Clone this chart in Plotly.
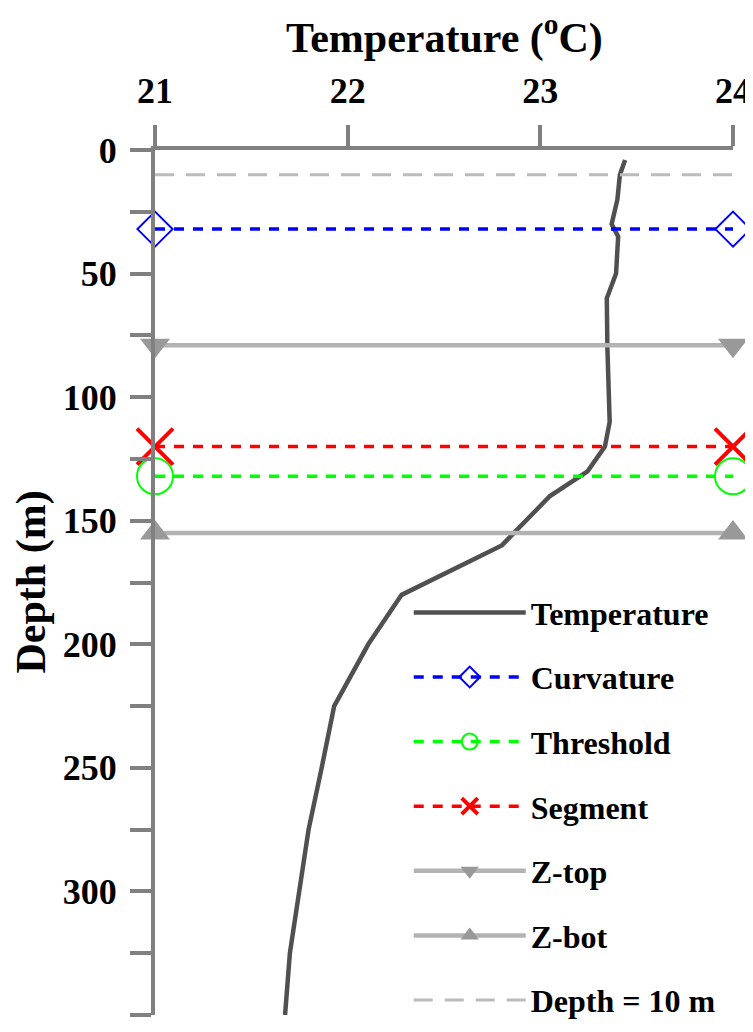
import plotly.graph_objects as go

# ---- data ----
temp_depth = [4, 10, 20, 30, 35, 50, 60, 80, 110, 120, 130, 140, 160, 180, 200, 225, 250, 275, 325, 350]
temp_value = [23.44, 23.413, 23.40, 23.37, 23.404, 23.393, 23.345, 23.348, 23.36, 23.335, 23.245, 23.05,
              22.80, 22.28, 22.107, 21.93, 21.865, 21.797, 21.70, 21.675]

x_limits = [21, 24]
curvature_depth = 32
threshold_depth = 132
segment_depth = 120
ztop_depth = 79
zbot_depth = 155
ref_depth = 10

x_ticks = [21, 22, 23, 24]
y_ticks = [0, 50, 100, 150, 200, 250, 300, 350]

x_title = "Temperature (<sup>o</sup>C)"
y_title = "Depth (m)"

FONT = "Liberation Serif, Times New Roman, serif"
AXIS_GRAY = "#808080"

fig = go.Figure()

fig.add_trace(go.Scatter(
    x=temp_value, y=temp_depth, mode="lines", name="Temperature",
    line=dict(color="#505050", width=4.5), legendgroup="a"))

def hline(depth, name, color, dash, width, symbol, msize, mcolor, mlw, group):
    fig.add_trace(go.Scatter(
        x=x_limits, y=[depth, depth], mode="lines+markers", name=name,
        line=dict(color=color, width=width, dash=dash),
        marker=dict(symbol=symbol, size=msize, color=mcolor,
                    line=dict(color=mcolor, width=mlw)),
        cliponaxis=False, legendgroup=group))

hline(curvature_depth, "Curvature", "#0000ff", "10px,9px", 3.5, "diamond-open", 27, "#0000ff", 2, "b")
hline(threshold_depth, "Threshold", "#00ff00", "10px,9px", 3.5, "circle-open", 36, "#00ff00", 2, "c")
hline(segment_depth, "Segment", "#ff0000", "10px,9px", 3.5, "x-thin", 36, "#ff0000", 4, "d")
hline(ztop_depth, "Z-top", "#b3b3b3", "solid", 4.5, "triangle-down", 26, "#999999", 0, "e")
hline(zbot_depth, "Z-bot", "#b3b3b3", "solid", 4.5, "triangle-up", 26, "#999999", 0, "f")

fig.add_trace(go.Scatter(
    x=x_limits, y=[ref_depth, ref_depth], mode="lines", name="Depth = 10 m",
    line=dict(color="#bbbbbb", width=3, dash="19px,12px"), cliponaxis=False, legendgroup="g"))

fig.update_layout(
    width=745, height=1024,
    margin=dict(l=147, r=20, t=142, b=17, autoexpand=False),
    paper_bgcolor="white", plot_bgcolor="white",
    font=dict(family=FONT, size=36, color="black", weight="bold"),
    showlegend=True,
    legend=dict(x=0.439, y=0.497, xanchor="left", yanchor="top",
                bgcolor="rgba(0,0,0,0)", font=dict(size=32, family=FONT, weight="bold"),
                itemwidth=112, tracegroupgap=20, itemsizing="trace"),
    xaxis=dict(
        side="top", range=x_limits, tickvals=x_ticks, ticktext=[str(v) for v in x_ticks],
        showgrid=False, zeroline=False, showline=True, linecolor=AXIS_GRAY, linewidth=4,
        ticks="outside", ticklen=21, tickwidth=4, tickcolor=AXIS_GRAY,
        ticklabelstandoff=8,
        tickfont=dict(size=36, family=FONT, weight="bold")),
    yaxis=dict(
        range=[350, 0], tickvals=y_ticks, ticktext=[str(v) for v in y_ticks],
        showgrid=False, zeroline=False, showline=True, linecolor=AXIS_GRAY, linewidth=4,
        ticks="outside", ticklen=21, tickwidth=4, tickcolor=AXIS_GRAY,
        minor=dict(dtick=25, tick0=0, ticks="outside", ticklen=21, tickwidth=4, tickcolor=AXIS_GRAY),
        ticklabelstandoff=6,
        tickfont=dict(size=36, family=FONT, weight="bold")),
    annotations=[
        dict(text=x_title, xref="paper", yref="paper", x=0.5, y=1 + 115 / 865,
             xanchor="center", yanchor="middle", showarrow=False,
             font=dict(size=42, family=FONT, weight="bold", color="black")),
        dict(text=y_title, xref="paper", yref="paper", x=(31 - 155) / 578, y=0.5,
             xanchor="center", yanchor="middle", textangle=-90, showarrow=False,
             font=dict(size=42, family=FONT, weight="bold", color="black")),
    ],
)

fig.write_html("out.html")
